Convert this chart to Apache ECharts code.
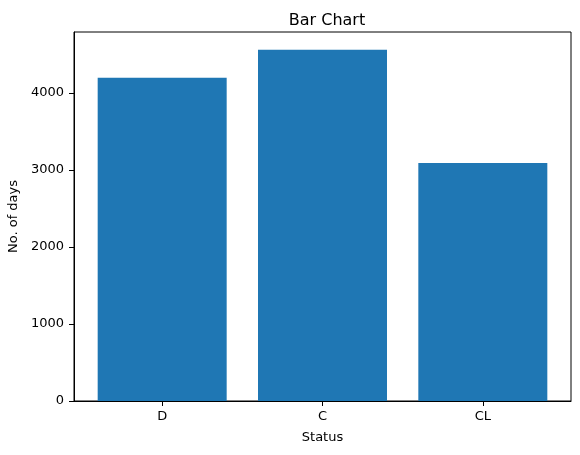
<!DOCTYPE html>
<html><head><meta charset="utf-8">
<script src="https://cdn.jsdelivr.net/npm/echarts@6/dist/echarts.min.js"></script>
<style>html,body{margin:0;padding:0;background:#fff}#c{width:580px;height:455px}</style>
</head><body><div id="c"></div>
<script>
const categories = ['D', 'C', 'CL'];
const values = [4195, 4558, 3091];
const yTicks = [0, 1000, 2000, 3000, 4000];

const chart = echarts.init(document.getElementById('c'), null, {renderer: 'canvas'});
const font = 'DejaVu Sans';
chart.setOption({
  animation: false,
  title: {text: 'Bar Chart', left: 322, top: 8, textAlign: 'center',
    textStyle: {fontFamily: font, fontSize: 16, fontWeight: 'normal', color: '#000'}},
  grid: {left: 74, right: 9, top: 32, bottom: 54, containLabel: false, outerBoundsMode: 'none',
    show: true, borderColor: '#000', borderWidth: 1},
  xAxis: {type: 'value', min: -0.55, max: 2.55, name: 'Status', nameLocation: 'middle', nameGap: 30,
    nameTextStyle: {fontFamily: font, fontSize: 13, color: '#000'},
    axisLine: {show: true, onZero: false, lineStyle: {color: '#000'}},
    splitLine: {show: false},
    axisTick: {show: true, length: 5, lineStyle: {color: '#000'}, customValues: [0, 1, 2]},
    axisLabel: {fontFamily: font, fontSize: 13, color: '#000', margin: 9, customValues: [0, 1, 2],
      formatter: v => categories[Math.round(v)]}},
  yAxis: {type: 'value', min: 0, max: 4790, name: 'No. of days', nameLocation: 'middle', nameGap: 52,
    nameTextStyle: {fontFamily: font, fontSize: 13, color: '#000'},
    axisLine: {show: true, onZero: false, lineStyle: {color: '#000'}},
    axisTick: {show: true, length: 5, lineStyle: {color: '#000'}, customValues: yTicks},
    splitLine: {show: false},
    axisLabel: {fontFamily: font, fontSize: 13, color: '#000', margin: 10, customValues: yTicks,
      formatter: v => String(v)}},
  series: [{type: 'bar', data: values.map((v, i) => [i, v]), barWidth: 129, itemStyle: {color: '#1f77b4'}}]
});
</script></body></html>
